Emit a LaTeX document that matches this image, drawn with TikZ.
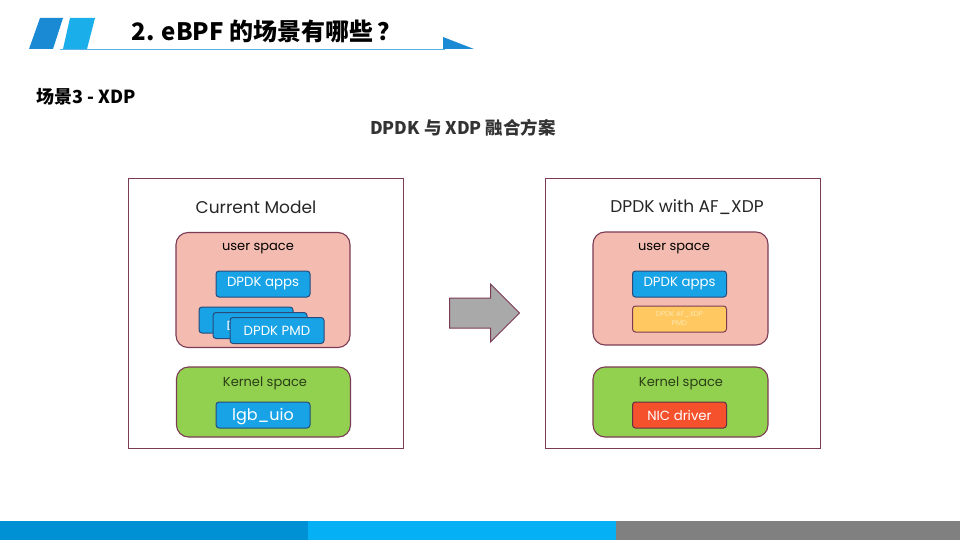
\documentclass[tikz,border=0pt]{standalone}
\usepackage{fontspec}
\setmainfont{Liberation Sans}
\newfontfamily\cjk{Noto Sans CJK SC}
\newfontfamily\geo{Poppins}
\usetikzlibrary{positioning, shapes.arrows}
\definecolor{edge}{HTML}{7B3B55}
\definecolor{navyline}{HTML}{2A4A7A}
\definecolor{dpdkblue}{HTML}{17A3E6}
\definecolor{userpink}{HTML}{F4BCB0}
\definecolor{kernelgreen}{HTML}{92D050}
\definecolor{kerneltext}{HTML}{2B3F16}
\definecolor{pmdyellow}{HTML}{FFC861}
\definecolor{pmdtext}{HTML}{FDE8B0}
\definecolor{nicred}{HTML}{F4512C}
\definecolor{arrowgray}{HTML}{A9A9A9}
\definecolor{hdrdark}{HTML}{1A8AD4}
\definecolor{hdrlight}{HTML}{1AAEEA}
\definecolor{hdrline}{HTML}{5AB4E8}
\definecolor{bardark}{HTML}{0090D4}
\definecolor{barlight}{HTML}{05B0F5}
\definecolor{bargray}{HTML}{808080}

\begin{document}
\begin{tikzpicture}[x=1pt, y=-1pt,
    panel/.style={draw=edge, line width=0.9pt, minimum width=275pt, minimum height=270pt},
    ptitle/.style={font=\geo\fontsize{17}{19}\selectfont, text=black!85},
    zone/.style={draw=edge, line width=1.1pt, rounded corners=12pt},
    uzone/.style={zone, fill=userpink, minimum width=174pt, minimum height=115pt},
    kzone/.style={zone, fill=kernelgreen, minimum width=174pt, minimum height=70pt},
    zlabel/.style={font=\geo\fontsize{13}{15}\selectfont},
    blk/.style={draw=navyline, line width=1pt, fill=dpdkblue, rounded corners=3pt, text=white,
      font=\geo\fontsize{13.3}{15}\selectfont, minimum width=94pt, minimum height=26pt, inner sep=0pt}]
  \useasboundingbox (0,0) rectangle (960,540);

  % header
  \fill[hdrdark] (40,18) -- (63,18) -- (53,49) -- (29,49) -- cycle;
  \fill[hdrlight] (70,18) -- (95,18) -- (87,49) -- (63,49) -- cycle;
  \draw[hdrline, line width=0.8pt] (60,49) -- (445,49);
  \fill[hdrdark] (443,37) -- (474,49) -- (443,49) -- cycle;
  \node[anchor=west, font=\cjk\bfseries\fontsize{24}{26}\selectfont] (title) at (128,31) {2. eBPF 的场景有哪些\,？};
  \node[anchor=west, font=\cjk\bfseries\fontsize{18}{20}\selectfont] (scene) at (33,97) {场景3 - XDP};
  \node[font=\cjk\bfseries\fontsize{17.5}{19}\selectfont, text=black!80] (caption) at (463,128) {DPDK 与 XDP 融合方案};

  % current model
  \node[panel] (left) at (265.5,313.5) {};
  \node[ptitle] (lefttitle) at (256,207) {Current Model};
  \node[uzone] (luser) at (263,290) {};
  \node[zlabel] at (258,249) {user space};
  \node[blk] (lapps) at (263,284) {DPDK apps};
  \node[blk] (lpmda) at (246,320) {};
  \node[blk] (lpmdb) at (260,325.5) {DPDK PMD};
  \node[blk] (lpmdc) at (277,330.5) {DPDK PMD};
  \node[kzone] (lkernel) at (263.5,402) {};
  \node[zlabel, text=kerneltext] at (265,383) {Kernel space};
  \node[blk, font=\geo\fontsize{16}{18}\selectfont, text depth=2pt] (luio) at (263,415) {lgb\_uio};

  % dpdk with af_xdp
  \node[panel] (right) at (682.5,313.5) {};
  \node[ptitle] (righttitle) at (687,207) {DPDK with AF\_XDP};
  \node[uzone, minimum width=175pt, minimum height=113pt] (ruser) at (680.5,288.5) {};
  \node[zlabel] at (674,249) {user space};
  \node[blk] (rapps) at (679.5,284) {DPDK apps};
  \node[blk, draw=edge, fill=pmdyellow, text=pmdtext, align=center,
    font=\geo\fontsize{7}{9}\selectfont] (rpmd) at (679.5,319) {DPDK AF\_XDP\\PMD};
  \node[kzone, minimum width=175pt] (rkernel) at (680.5,402) {};
  \node[zlabel, text=kerneltext] at (681,383) {Kernel space};
  \node[blk, draw=edge!80!black, fill=nicred] (rnic) at (679.5,415) {NIC driver};

  % big arrow
  \node[single arrow, draw=edge, line width=1pt, fill=arrowgray, inner xsep=0pt, inner ysep=14.5pt,
    minimum height=70pt, single arrow head extend=14pt] (move) at (477,313) {};

  % footer
  \fill[bardark] (0,521) rectangle (308,540);
  \fill[barlight] (308,521) rectangle (616,540);
  \fill[bargray] (616,521) rectangle (960,540);
\end{tikzpicture}
\end{document}
